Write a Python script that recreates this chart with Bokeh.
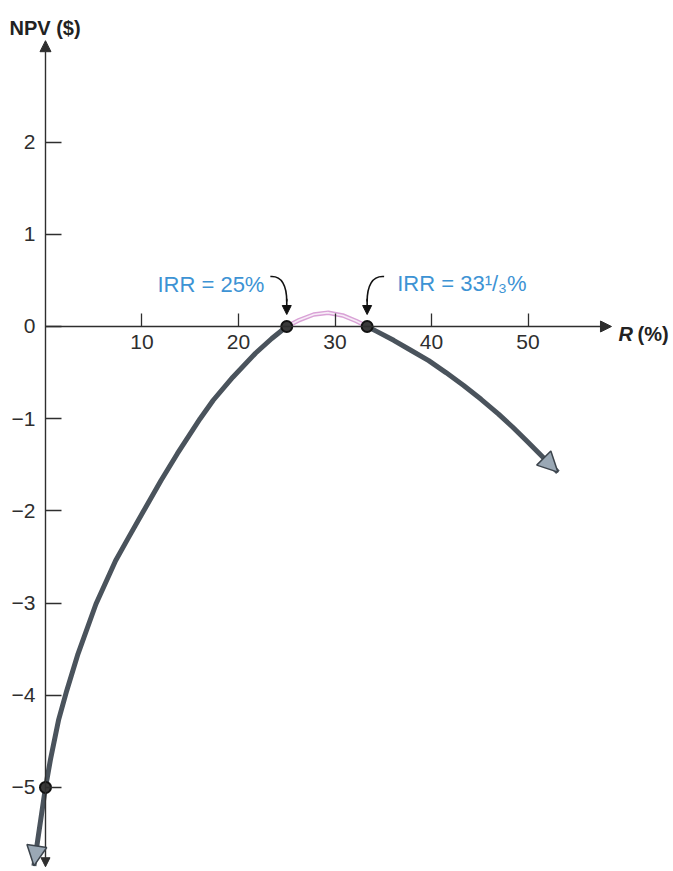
from bokeh.plotting import figure
from bokeh.models import Range1d, LinearAxis, FixedTicker, Arrow, NormalHead, Label
from bokeh.embed import file_html
from bokeh.resources import INLINE

# ---- data ----
# NPV profile, negative left branch (R in %, NPV in $)
r_left = [-1.2, 0, 0.51, 1.35, 2.2, 3.37, 5.23, 7.26, 8.6, 10.12, 11.97, 13.66,
          16.02, 17.38, 19.41, 21.76, 23.45, 25]
npv_left = [-5.85, -5.0, -4.70, -4.27, -3.95, -3.55, -3.01, -2.54, -2.29, -2.01, -1.67, -1.38,
            -1.0, -0.80, -0.55, -0.29, -0.13, 0.0]
# positive hump between the two IRRs
r_mid = [25, 26.3, 27.8, 29.3, 30.8, 32.2, 33.33]
npv_mid = [0.0, 0.07, 0.13, 0.15, 0.12, 0.06, 0.0]
# negative right branch
r_right = [33.33, 34.27, 36.08, 37.9, 39.71, 41.5, 43.33, 45.14, 46.95, 48.4, 49.85, 53.1]
npv_right = [0.0, -0.05, -0.15, -0.26, -0.37, -0.50, -0.64, -0.79, -0.95, -1.09, -1.24, -1.58]
# marked points
pts_r = [0, 25, 33.33]
pts_npv = [-5, 0, 0]
# ticks
x_ticks = [10, 20, 30, 40, 50]
y_ticks = [-5, -4, -3, -2, -1, 0, 1, 2]
y_tick_labels = ["\u22125", "\u22124", "\u22123", "\u22122", "\u22121", "0", "1", "2"]
irr_labels = ["IRR = 25%", "IRR = 33\u00b9/\u2083%"]

CURVE = "#4a535c"
AX = "#2e2e2e"
BLUE = "#3d93d4"
FONT = "Liberation Sans"

p = figure(width=671, height=868,
           x_range=Range1d(-4.663, 64.87), y_range=Range1d(-5.879, 3.536),
           output_backend="svg", toolbar_location=None,
           x_axis_location=None, y_axis_location=None,
           min_border=0, outline_line_color=None)
for g in p.grid:
    g.visible = False

xaxis = LinearAxis(fixed_location=0, ticker=FixedTicker(ticks=x_ticks),
                   axis_line_color=None, major_tick_in=13, major_tick_out=0,
                   major_tick_line_color=AX, major_tick_line_width=1.3,
                   minor_tick_line_color=None, major_label_standoff=9,
                   major_label_text_font=FONT, major_label_text_font_size="21px",
                   major_label_text_color=AX)
p.add_layout(xaxis, "below")

yaxis = LinearAxis(fixed_location=0, ticker=FixedTicker(ticks=y_ticks),
                   axis_line_color=None, major_tick_in=16, major_tick_out=0,
                   major_tick_line_color=AX, major_tick_line_width=1.3,
                   minor_tick_line_color=None, major_label_standoff=10,
                   major_label_text_font=FONT, major_label_text_font_size="21px",
                   major_label_text_color=AX,
                   major_label_overrides={t: s for t, s in zip(y_ticks, y_tick_labels)})
p.add_layout(yaxis, "left")

# axis lines with arrowheads
p.add_layout(Arrow(x_start=0, y_start=0, x_end=58.65, y_end=0,
                   line_color=AX, line_width=1.4,
                   end=NormalHead(size=11, fill_color=AX, line_color=AX)))
p.add_layout(Arrow(x_start=0, y_start=-5.86, x_end=0, y_end=3.10,
                   line_color=AX, line_width=1.4,
                   start=NormalHead(size=9, fill_color=AX, line_color=AX),
                   end=NormalHead(size=11, fill_color=AX, line_color=AX)))

# curve
p.line(r_mid, npv_mid, line_color="#d9a2d6", line_width=4.5)
p.line(r_mid, npv_mid, line_color="#f7ecf7", line_width=1.6)
p.line(r_left, npv_left, line_color=CURVE, line_width=5, line_join="round")
p.line(r_right, npv_right, line_color=CURVE, line_width=5, line_join="round")

# curve arrowheads
p.add_layout(Arrow(x_start=r_right[-2], y_start=npv_right[-2], x_end=r_right[-1], y_end=npv_right[-1],
                   line_alpha=0,
                   end=NormalHead(size=20, fill_color="#9aa8b5", line_color="#3c444c", line_width=1.5)))
p.add_layout(Arrow(x_start=r_left[1], y_start=npv_left[1], x_end=r_left[0], y_end=npv_left[0],
                   line_alpha=0,
                   end=NormalHead(size=20, fill_color="#9aa8b5", line_color="#3c444c", line_width=1.5)))

# marked points
p.scatter(pts_r, pts_npv, size=11, fill_color="#3a3a3a", line_color="#111111", line_width=2)

# annotation arrows (curved)
p.bezier(x0=[23.3, 35.09], y0=[0.542, 0.542],
         x1=[25.0, 33.33], y1=[0.27, 0.27],
         cx0=[24.5, 33.85], cy0=[0.553, 0.553],
         cx1=[25.0, 33.33], cy1=[0.44, 0.44],
         line_color="#111111", line_width=1.6)
for xr in (25.0, 33.33):
    p.add_layout(Arrow(x_start=xr, y_start=0.30, x_end=xr, y_end=0.13,
                       line_color="#111111", line_width=1.6,
                       end=NormalHead(size=9, fill_color="#111111", line_color="#111111")))

# IRR labels
p.add_layout(Label(x=11.6, y=0.456, text=irr_labels[0], text_font=FONT,
                   text_font_size="22px", text_color=BLUE, text_baseline="alphabetic"))
p.add_layout(Label(x=36.45, y=0.466, text=irr_labels[1], text_font=FONT,
                   text_font_size="22px", text_color=BLUE, text_baseline="alphabetic"))

# axis titles
p.add_layout(Label(x=-3.73, y=3.243, text="NPV ($)", text_font=FONT,
                   text_font_size="20px", text_font_style="bold", text_color="#222222",
                   text_baseline="alphabetic"))
p.add_layout(Label(x=59.38, y=-0.076, text="R", text_font=FONT,
                   text_font_size="20px", text_font_style="bold italic", text_color="#222222",
                   text_baseline="alphabetic"))
p.add_layout(Label(x=61.35, y=-0.076, text="(%)", text_font=FONT,
                   text_font_size="20px", text_font_style="bold", text_color="#222222",
                   text_baseline="alphabetic"))

open("out.html", "w").write(file_html(p, INLINE))
